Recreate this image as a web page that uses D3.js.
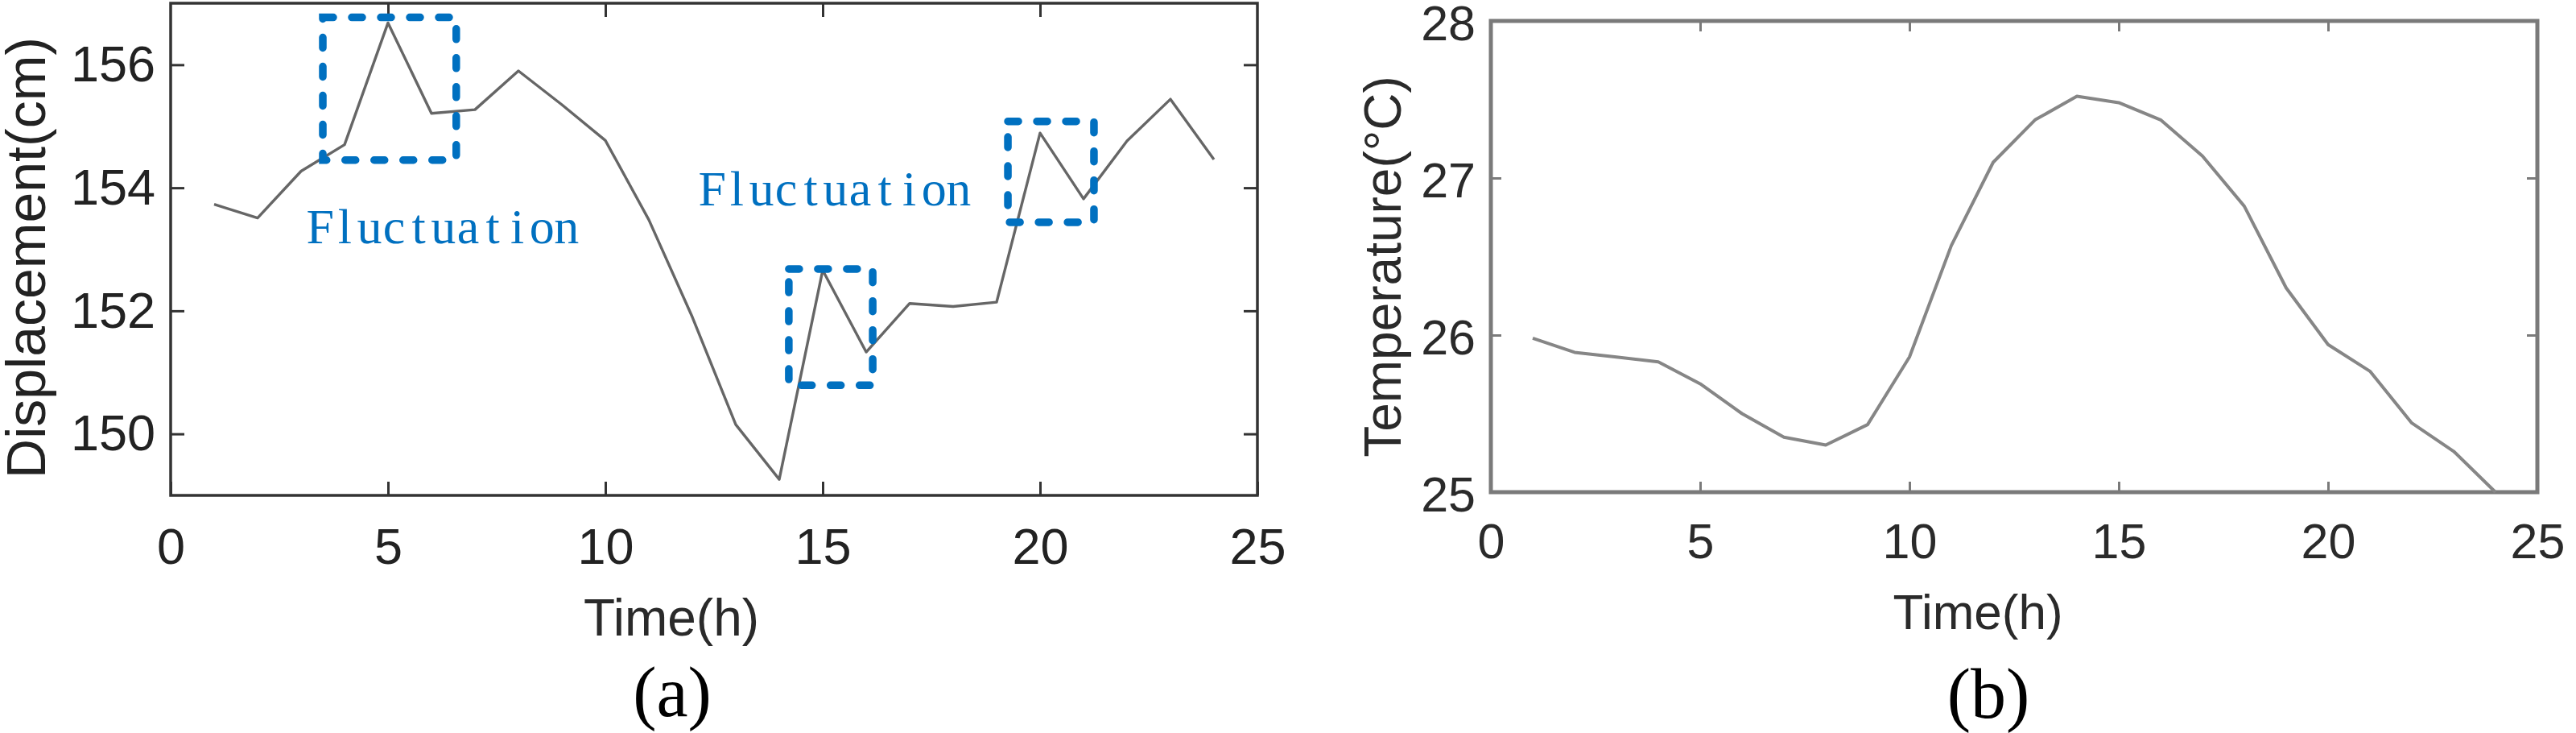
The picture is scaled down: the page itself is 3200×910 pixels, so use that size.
<!DOCTYPE html>
<html>
<head>
<meta charset="utf-8">
<script src="https://cdn.jsdelivr.net/npm/d3@7"></script>
<style>
  html, body { margin: 0; padding: 0; background: #fff; }
  svg { display: block; }
  .tick text { font-family: "Liberation Sans", Arial, sans-serif; }
</style>
</head>
<body>
<div id="chart"></div>
<script>
// data
var hours = [1, 2, 3, 4, 5, 6, 7, 8, 9, 10, 11, 12, 13, 14, 15, 16, 17, 18, 19, 20, 21, 22, 23, 24];
var displacement = [153.73, 153.51, 154.27, 154.70, 156.68, 155.21, 155.27, 155.90, 155.35, 154.77,
    153.48, 151.90, 150.15, 149.26, 152.66, 151.33, 152.12, 152.07, 152.14, 154.89,
    153.82, 154.76, 155.44, 154.46];
var temperature = [25.98, 25.89, 25.86, 25.83, 25.69, 25.50, 25.35, 25.30, 25.43, 25.86,
    26.57, 27.10, 27.37, 27.52, 27.48, 27.37, 27.14, 26.82, 26.30, 25.94,
    25.77, 25.44, 25.26, 25.0];

var xTicks = [0, 5, 10, 15, 20, 25];
var dispTicks = [150, 152, 154, 156];
var tempTicks = [25, 26, 27, 28];

// dashed boxes around the fluctuations: [x0, x1, y0, y1] in data units
var boxes = [
    [3.5, 6.57, 154.45, 156.77],
    [14.22, 16.15, 150.79, 152.68],
    [19.26, 21.24, 153.44, 155.08]
];
// label text and its anchor [first char centre x, baseline y] in data units
var fluctText = "Fluctuation";
var fluctLabels = [
    [3.44, 153.10],
    [12.46, 153.71]
];

var W = 3200, H = 910;
var svg = d3.select("#chart").append("svg")
    .attr("width", W)
    .attr("height", H);

var sans = "'Liberation Sans', Arial, sans-serif";
var fmt = d3.format("d");

// ---------- panel (a) ----------
var xa = d3.scaleLinear().domain([0, 25]).range([212, 1562]);
var ya = d3.scaleLinear().domain([149, 157]).range([615, 4]);

var ga = svg.append("g");

function styleAxis(g, color, width, fs, textColor) {
    g.select(".domain").remove();
    g.selectAll(".tick line").attr("stroke", color).attr("stroke-width", width);
    g.selectAll(".tick text")
        .attr("fill", textColor)
        .style("font-size", fs + "px");
}

ga.append("g")
    .attr("transform", "translate(0," + ya.range()[0] + ")")
    .call(d3.axisBottom(xa).tickValues(xTicks).tickFormat(fmt).tickSize(-17).tickPadding(40).tickSizeOuter(0))
    .call(styleAxis, "#333", 3, 63, "#222");
ga.append("g")
    .attr("transform", "translate(0," + ya.range()[1] + ")")
    .call(d3.axisTop(xa).tickValues(xTicks.slice(1, -1)).tickSize(-17).tickFormat(""))
    .call(styleAxis, "#333", 3, 63, "#222");
ga.append("g")
    .attr("transform", "translate(" + xa.range()[0] + ",0)")
    .call(d3.axisLeft(ya).tickValues(dispTicks).tickFormat(fmt).tickSize(-17).tickPadding(19).tickSizeOuter(0))
    .call(styleAxis, "#333", 3, 63, "#222");
ga.append("g")
    .attr("transform", "translate(" + xa.range()[1] + ",0)")
    .call(d3.axisRight(ya).tickValues(dispTicks).tickSize(-17).tickFormat(""))
    .call(styleAxis, "#333", 3, 63, "#222");

ga.append("rect")
    .attr("x", xa(0)).attr("y", ya(157))
    .attr("width", xa(25) - xa(0)).attr("height", ya(149) - ya(157))
    .attr("fill", "none").attr("stroke", "#333").attr("stroke-width", 3.5);

var lineA = d3.line()
    .x(function (d, i) { return xa(hours[i]); })
    .y(function (d) { return ya(d); });

ga.append("path")
    .datum(displacement)
    .attr("d", lineA)
    .attr("fill", "none")
    .attr("stroke", "#666")
    .attr("stroke-width", 3.4)
    .attr("stroke-linejoin", "round");

ga.selectAll(".fbox")
    .data(boxes)
    .enter().append("rect")
    .attr("class", "fbox")
    .attr("x", function (d) { return xa(d[0]); })
    .attr("y", function (d) { return ya(d[3]); })
    .attr("width", function (d) { return xa(d[1]) - xa(d[0]); })
    .attr("height", function (d) { return ya(d[2]) - ya(d[3]); })
    .attr("fill", "none")
    .attr("stroke", "#0070c0")
    .attr("stroke-width", 9.5)
    .attr("stroke-linecap", "round")
    .attr("stroke-dasharray", "13 23");

// monospace-like label: one x per character
var charStep = 30.6;
ga.selectAll(".flabel")
    .data(fluctLabels)
    .enter().append("text")
    .attr("class", "flabel")
    .attr("x", function (d) {
        var x0 = xa(d[0]);
        return fluctText.split("").map(function (c, i) { return (x0 + i * charStep).toFixed(1); }).join(" ");
    })
    .attr("y", function (d) { return ya(d[1]); })
    .attr("text-anchor", "middle")
    .attr("fill", "#0070c0")
    .style("font-family", "'Liberation Serif', 'DejaVu Serif', serif")
    .style("font-size", "62px")
    .text(fluctText);

ga.append("text")
    .attr("transform", "translate(56,320) rotate(-90)")
    .attr("text-anchor", "middle")
    .attr("fill", "#222")
    .style("font-family", sans)
    .style("font-size", "68px")
    .text("Displacement(cm)");

ga.append("text")
    .attr("x", 834).attr("y", 789)
    .attr("text-anchor", "middle")
    .attr("fill", "#2a2a2a")
    .style("font-family", sans)
    .style("font-size", "64px")
    .text("Time(h)");

ga.append("text")
    .attr("x", 835).attr("y", 889)
    .attr("text-anchor", "middle")
    .attr("fill", "#000")
    .style("font-family", "'Liberation Serif', 'Times New Roman', serif")
    .style("font-size", "88px")
    .text("(a)");

// ---------- panel (b) ----------
var xb = d3.scaleLinear().domain([0, 25]).range([1852, 3152]);
var yb = d3.scaleLinear().domain([25, 28]).range([611, 26]);

var gb = svg.append("g");

gb.append("g")
    .attr("transform", "translate(0," + yb.range()[0] + ")")
    .call(d3.axisBottom(xb).tickValues(xTicks).tickFormat(fmt).tickSize(-13).tickPadding(39).tickSizeOuter(0))
    .call(styleAxis, "#7a7a7a", 3, 61, "#2a2a2a");
gb.append("g")
    .attr("transform", "translate(0," + yb.range()[1] + ")")
    .call(d3.axisTop(xb).tickValues(xTicks.slice(1, -1)).tickSize(-13).tickFormat(""))
    .call(styleAxis, "#7a7a7a", 3, 61, "#2a2a2a");
gb.append("g")
    .attr("transform", "translate(" + xb.range()[0] + ",0)")
    .call(d3.axisLeft(yb).tickValues(tempTicks).tickFormat(fmt).tickSize(-13).tickPadding(19).tickSizeOuter(0))
    .call(styleAxis, "#7a7a7a", 3, 61, "#2a2a2a")
    .call(function (g) { g.selectAll(".tick text").attr("dy", "0.38em"); });
gb.append("g")
    .attr("transform", "translate(" + xb.range()[1] + ",0)")
    .call(d3.axisRight(yb).tickValues(tempTicks.slice(1, -1)).tickSize(-13).tickFormat(""))
    .call(styleAxis, "#7a7a7a", 3, 61, "#2a2a2a");

gb.append("rect")
    .attr("x", xb(0)).attr("y", yb(28))
    .attr("width", xb(25) - xb(0)).attr("height", yb(25) - yb(28))
    .attr("fill", "none").attr("stroke", "#7a7a7a").attr("stroke-width", 5);

var lineB = d3.line()
    .x(function (d, i) { return xb(hours[i]); })
    .y(function (d) { return yb(d); });

gb.append("path")
    .datum(temperature)
    .attr("d", lineB)
    .attr("fill", "none")
    .attr("stroke", "#868686")
    .attr("stroke-width", 4)
    .attr("stroke-linejoin", "round");

gb.append("text")
    .attr("transform", "translate(1740,331) rotate(-90)")
    .attr("text-anchor", "middle")
    .attr("fill", "#2a2a2a")
    .style("font-family", sans)
    .style("font-size", "64px")
    .text("Temperature(°C)");

gb.append("text")
    .attr("x", 2457).attr("y", 781)
    .attr("text-anchor", "middle")
    .attr("fill", "#2a2a2a")
    .style("font-family", sans)
    .style("font-size", "62px")
    .text("Time(h)");

gb.append("text")
    .attr("x", 2470).attr("y", 891)
    .attr("text-anchor", "middle")
    .attr("fill", "#000")
    .style("font-family", "'Liberation Serif', 'Times New Roman', serif")
    .style("font-size", "88px")
    .text("(b)");
</script>
</body>
</html>
